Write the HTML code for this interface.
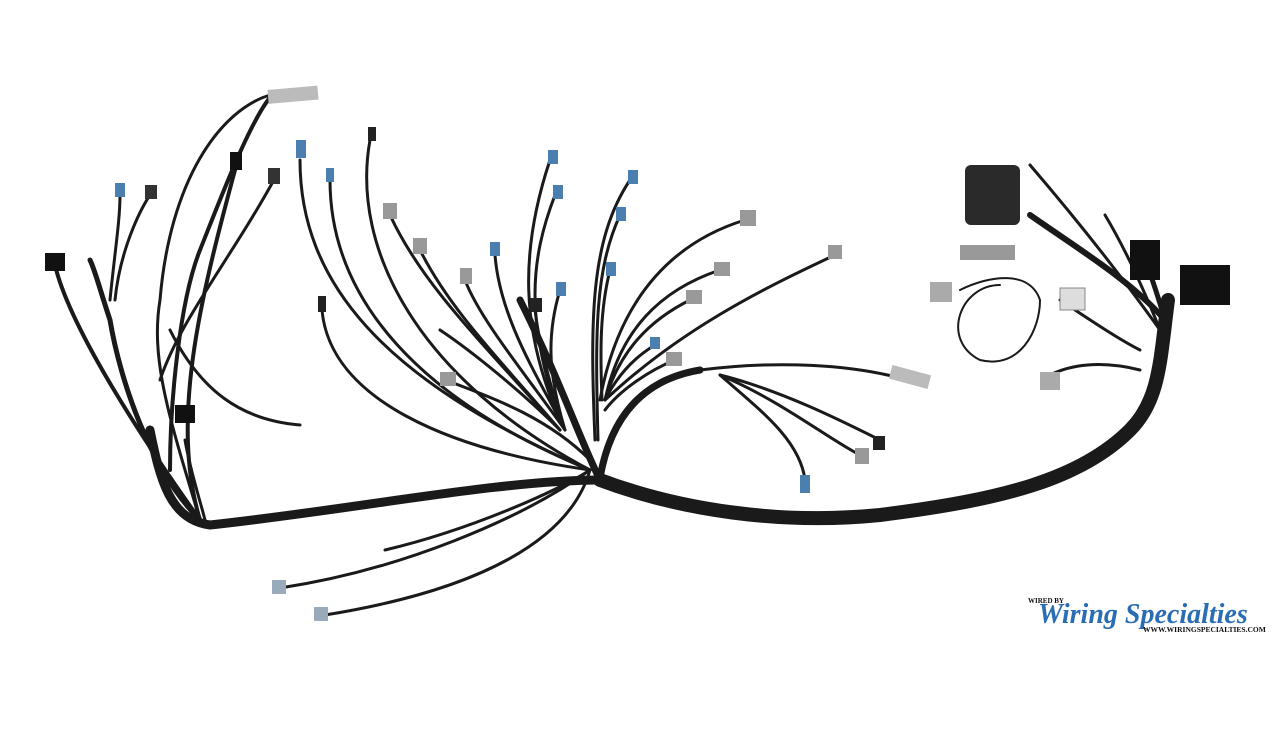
<!DOCTYPE html>
<html><head><meta charset="utf-8"><style>
body{margin:0;background:#fff;width:1280px;height:738px;overflow:hidden;position:relative;font-family:"Liberation Serif",serif}
.l1{position:absolute;left:1028px;top:597px;font-size:7px;font-weight:bold;color:#111}
.l2{position:absolute;left:1038px;top:600px;font-size:28px;font-weight:bold;font-style:italic;color:#2a6db5;line-height:30px}
.l3{position:absolute;left:1143px;top:625px;font-size:7.5px;font-weight:bold;color:#111}
</style></head><body>
<svg width="1280" height="738" style="position:absolute;left:0;top:0">
<g fill="none" stroke="#1a1a1a" stroke-linecap="round">
<path d="M1168 300 C1160 360 1160 400 1130 430 C1080 480 1000 500 880 515 C780 525 680 510 600 480" stroke-width="14"/>
<path d="M600 480 C500 480 350 510 210 525 C170 520 160 480 150 430" stroke-width="9"/>
<path d="M600 480 C580 440 560 380 520 300" stroke-width="7"/>
<path d="M600 478 C610 420 640 380 700 370" stroke-width="7"/>
<path d="M200 520 C150 470 120 380 110 320 C100 290 95 270 90 260" stroke-width="5"/>
<path d="M200 520 C150 450 70 330 55 265" stroke-width="4"/>
<path d="M170 470 C170 400 180 300 200 250 C220 200 250 120 272 95" stroke-width="4"/>
<path d="M200 520 C170 420 200 300 235 170" stroke-width="4"/>
<path d="M160 380 C180 320 230 260 275 178" stroke-width="3"/>
<path d="M115 300 C120 250 140 210 150 195" stroke-width="3"/>
<path d="M110 300 C115 250 120 220 120 195" stroke-width="3"/>
<path d="M270 95 C220 110 170 180 160 300 C150 360 170 420 200 520" stroke-width="3"/>
<path d="M185 440 C190 470 200 500 205 520" stroke-width="3"/>
<path d="M170 330 C200 390 240 420 300 425" stroke-width="3"/>
<path d="M300 160 C300 280 380 380 590 470" stroke-width="3"/>
<path d="M330 180 C330 300 420 400 590 470" stroke-width="3"/>
<path d="M370 140 C350 250 420 380 590 470" stroke-width="3"/>
<path d="M322 310 C330 400 450 450 590 470" stroke-width="3"/>
<path d="M390 215 C420 280 470 330 560 430" stroke-width="3"/>
<path d="M420 250 C450 310 500 360 560 430" stroke-width="3"/>
<path d="M440 330 C470 350 520 390 560 430" stroke-width="3"/>
<path d="M465 280 C480 320 530 380 565 430" stroke-width="3"/>
<path d="M495 255 C500 320 540 380 565 430" stroke-width="3"/>
<path d="M550 160 C520 250 520 330 560 420" stroke-width="3"/>
<path d="M555 195 C530 260 525 320 560 420" stroke-width="3"/>
<path d="M535 310 C540 350 550 380 560 420" stroke-width="3"/>
<path d="M560 290 C545 340 550 380 565 430" stroke-width="3"/>
<path d="M445 380 C500 400 550 420 590 460" stroke-width="3"/>
<path d="M630 180 C590 240 590 320 595 440" stroke-width="3"/>
<path d="M620 215 C595 270 595 330 598 440" stroke-width="3"/>
<path d="M745 220 C680 240 620 290 600 400" stroke-width="3"/>
<path d="M720 270 C660 290 620 330 605 400" stroke-width="3"/>
<path d="M835 255 C760 290 680 330 605 400" stroke-width="3"/>
<path d="M690 300 C650 320 620 350 605 400" stroke-width="3"/>
<path d="M610 270 C600 310 600 350 602 400" stroke-width="3"/>
<path d="M655 345 C630 360 615 380 605 400" stroke-width="3"/>
<path d="M675 360 C650 370 620 390 605 410" stroke-width="3"/>
<path d="M700 370 C780 360 850 365 900 378" stroke-width="3"/>
<path d="M720 375 C780 390 840 420 880 440" stroke-width="3"/>
<path d="M720 375 C780 400 830 440 860 455" stroke-width="3"/>
<path d="M720 375 C760 410 800 440 805 480" stroke-width="3"/>
<path d="M590 470 C560 490 470 530 385 550" stroke-width="3"/>
<path d="M590 470 C520 520 400 570 280 588" stroke-width="3"/>
<path d="M590 470 C570 540 480 590 325 615" stroke-width="3"/>
<path d="M1165 320 C1130 280 1080 250 1030 215" stroke-width="6"/>
<path d="M1160 330 C1140 280 1120 240 1105 215" stroke-width="3"/>
<path d="M1160 330 C1110 260 1060 200 1030 165" stroke-width="3"/>
<path d="M1165 320 C1150 270 1145 260 1140 250" stroke-width="5"/>
<path d="M1140 370 C1100 360 1070 365 1050 375" stroke-width="3"/>
<path d="M1060 300 C1090 320 1120 340 1140 350" stroke-width="3"/>
<path d="M1000 285 C960 285 940 340 980 360 C1020 370 1040 330 1040 300 C1030 270 990 275 960 290" stroke-width="2"/>
</g>
<g>
<rect x="268" y="88" width="50" height="14" fill="#bbb" transform="rotate(-5 290 95)"/>
<rect x="965" y="165" width="55" height="60" rx="6" fill="#2a2a2a"/>
<rect x="960" y="245" width="55" height="15" fill="#999"/>
<rect x="1130" y="240" width="30" height="40" fill="#111"/>
<rect x="1180" y="265" width="50" height="40" fill="#111"/>
<rect x="1060" y="288" width="25" height="22" fill="#ddd" stroke="#888"/>
<rect x="930" y="282" width="22" height="20" fill="#aaa"/>
<rect x="890" y="370" width="40" height="14" fill="#bbb" transform="rotate(15 910 377)"/>
<rect x="1040" y="372" width="20" height="18" fill="#aaa"/>
<rect x="45" y="253" width="20" height="18" fill="#111"/>
<rect x="175" y="405" width="20" height="18" fill="#111"/>
<rect x="230" y="152" width="12" height="18" fill="#111"/>
<rect x="268" y="168" width="12" height="16" fill="#333"/>
<rect x="145" y="185" width="12" height="14" fill="#333"/>
<rect x="115" y="183" width="10" height="14" fill="#4a7fb0"/>
<rect x="296" y="140" width="10" height="18" fill="#4a7fb0"/>
<rect x="326" y="168" width="8" height="14" fill="#4a7fb0"/>
<rect x="368" y="127" width="8" height="14" fill="#222"/>
<rect x="383" y="203" width="14" height="16" fill="#999"/>
<rect x="413" y="238" width="14" height="16" fill="#999"/>
<rect x="460" y="268" width="12" height="16" fill="#999"/>
<rect x="490" y="242" width="10" height="14" fill="#4a7fb0"/>
<rect x="440" y="372" width="16" height="14" fill="#999"/>
<rect x="530" y="298" width="12" height="14" fill="#222"/>
<rect x="548" y="150" width="10" height="14" fill="#4a7fb0"/>
<rect x="553" y="185" width="10" height="14" fill="#4a7fb0"/>
<rect x="556" y="282" width="10" height="14" fill="#4a7fb0"/>
<rect x="628" y="170" width="10" height="14" fill="#4a7fb0"/>
<rect x="616" y="207" width="10" height="14" fill="#4a7fb0"/>
<rect x="606" y="262" width="10" height="14" fill="#4a7fb0"/>
<rect x="740" y="210" width="16" height="16" fill="#999"/>
<rect x="714" y="262" width="16" height="14" fill="#999"/>
<rect x="686" y="290" width="16" height="14" fill="#999"/>
<rect x="828" y="245" width="14" height="14" fill="#999"/>
<rect x="650" y="337" width="10" height="12" fill="#4a7fb0"/>
<rect x="666" y="352" width="16" height="14" fill="#999"/>
<rect x="855" y="448" width="14" height="16" fill="#999"/>
<rect x="873" y="436" width="12" height="14" fill="#222"/>
<rect x="800" y="475" width="10" height="18" fill="#4a7fb0"/>
<rect x="272" y="580" width="14" height="14" fill="#9ab"/>
<rect x="314" y="607" width="14" height="14" fill="#9ab"/>
<rect x="318" y="296" width="8" height="16" fill="#222"/>
</g>
</svg>
<div class="l1">WIRED BY</div>
<div class="l2">Wiring Specialties</div>
<div class="l3">WWW.WIRINGSPECIALTIES.COM</div>
</body></html>
